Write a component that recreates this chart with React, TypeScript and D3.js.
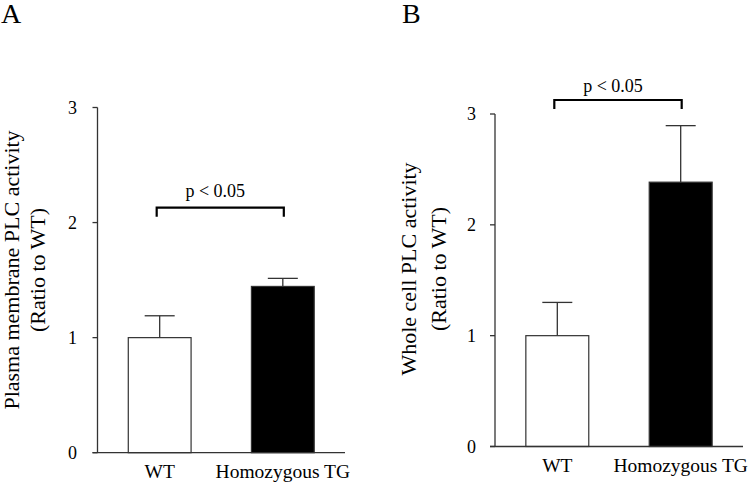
import React from "react";
import * as d3 from "d3";

const categories = ["WT", "Homozygous TG"];
const panelAValues = [1.0, 1.445];
const panelAErrors = [0.19, 0.07];
const panelBValues = [1.0, 2.385];
const panelBErrors = [0.3, 0.51];
const yTicks = [0, 1, 2, 3];
const pLabel = "p < 0.05";
const panelALabel = ["Plasma membrane PLC activity", "(Ratio to WT)"];
const panelBLabel = ["Whole cell PLC activity", "(Ratio to WT)"];

const FONT = "Liberation Serif, Times New Roman, serif";
const AXIS = "#333";

type PanelProps = {
  letter: string;
  letterX: number;
  values: number[];
  errors: number[];
  x0: number;
  x1: number;
  yTop: number;
  yBottom: number;
  labelLines: string[];
  labelX: number[];
  labelY: number;
  tickRight: number;
  bracketY: number;
  bracketLeg: number;
  pTextY: number;
};

function Panel(p: PanelProps) {
  const y = d3.scaleLinear().domain([0, 3]).range([p.yBottom, p.yTop]);
  const x = d3
    .scaleBand<string>()
    .domain(categories)
    .range([p.x0, p.x1])
    .paddingInner(0.49)
    .paddingOuter(0.25);
  const bw = x.bandwidth();
  const cx = (c: string) => (x(c) as number) + bw / 2;
  const capW = 30;
  const bl = cx(categories[0]);
  const br = cx(categories[1]);
  const ts = { fontFamily: FONT };
  return (
    <g>
      <text x={p.letterX} y={23} fontSize={28} style={ts} fill="#000">
        {p.letter}
      </text>
      {p.labelLines.map((t, i) => (
        <text
          key={i}
          transform={`translate(${p.labelX[i]},${p.labelY}) rotate(-90)`}
          textAnchor="middle"
          fontSize={22}
          style={ts}
          fill="#000"
        >
          {t}
        </text>
      ))}
      {categories.map((c, i) => {
        const v = p.values[i];
        const e = p.errors[i];
        const c0 = cx(c);
        return (
          <g key={c}>
            <line x1={c0} x2={c0} y1={y(v)} y2={y(v + e)} stroke={AXIS} strokeWidth={1.3} />
            <line x1={c0 - capW / 2} x2={c0 + capW / 2} y1={y(v + e)} y2={y(v + e)} stroke={AXIS} strokeWidth={1.3} />
            <rect
              x={x(c)}
              y={y(v)}
              width={bw}
              height={y(0) - y(v)}
              fill={i === 0 ? "#fff" : "#000"}
              stroke={AXIS}
              strokeWidth={1.2}
            />
          </g>
        );
      })}
      <line x1={p.x0} x2={p.x0} y1={y(3)} y2={y(0)} stroke={AXIS} strokeWidth={1.3} />
      <line x1={p.x0 - 5} x2={p.x1} y1={y(0)} y2={y(0)} stroke={AXIS} strokeWidth={1.3} />
      {yTicks.map((t) => (
        <g key={t}>
          <line x1={p.x0 - 5} x2={p.x0} y1={y(t)} y2={y(t)} stroke={AXIS} strokeWidth={1.3} />
          <text x={p.tickRight} y={y(t)} dy="0.35em" textAnchor="end" fontSize={18} style={ts} fill="#000">
            {t}
          </text>
        </g>
      ))}
      {categories.map((c) => (
        <text key={c} x={cx(c)} y={y(0) + 25} textAnchor="middle" fontSize={19.5} style={ts} fill="#000">
          {c}
        </text>
      ))}
      <path
        d={`M${bl - 3},${p.bracketY + p.bracketLeg} V${p.bracketY} H${br + 1} V${p.bracketY + p.bracketLeg}`}
        fill="none"
        stroke="#000"
        strokeWidth={2.2}
      />
      <text x={(bl + br) / 2 - 6} y={p.pTextY} textAnchor="middle" fontSize={18} style={ts} fill="#000">
        {pLabel}
      </text>
    </g>
  );
}

export default function App() {
  return (
    <svg width={750} height={482} style={{ position: "absolute", left: 0, top: 0, background: "#fff" }}>
      <rect width={750} height={482} fill="#fff" />
      <Panel
        letter="A"
        letterX={1}
        values={panelAValues}
        errors={panelAErrors}
        x0={97.5}
        x1={345}
        yTop={107.5}
        yBottom={452.7}
        labelLines={panelALabel}
        labelX={[19, 45]}
        labelY={270}
        tickRight={77}
        bracketY={207.7}
        bracketLeg={9}
        pTextY={196.7}
      />
      <Panel
        letter="B"
        letterX={402}
        values={panelBValues}
        errors={panelBErrors}
        x0={495}
        x1={743}
        yTop={114}
        yBottom={446.5}
        labelLines={panelBLabel}
        labelX={[416, 446]}
        labelY={269}
        tickRight={476}
        bracketY={100}
        bracketLeg={9}
        pTextY={91.7}
      />
    </svg>
  );
}
